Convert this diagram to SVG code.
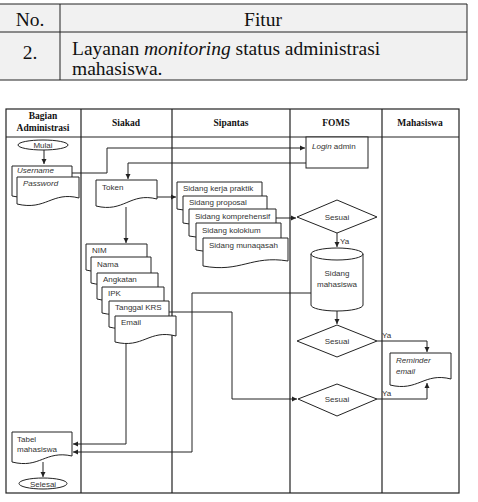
<svg xmlns="http://www.w3.org/2000/svg" width="478" height="502" viewBox="0 0 478 502">
<style>
.ln{stroke:#222;stroke-width:1;fill:none}
.sh{stroke:#222;stroke-width:1;fill:#fff}
.lane{stroke:#222;stroke-width:1.2;fill:none}
.t{font-family:"Liberation Sans",Arial,sans-serif;font-size:8px;fill:#333}
.c{text-anchor:middle}
.i{font-style:italic}
.h{font-family:"Liberation Serif","Times New Roman",serif;font-size:9.5px;font-weight:bold;fill:#111;text-anchor:middle}
.tt{font-family:"Liberation Serif","Times New Roman",serif;font-size:19.5px;fill:#111}
</style>
<defs>
<marker id="ah" markerWidth="6" markerHeight="6" refX="5" refY="3" orient="auto" markerUnits="userSpaceOnUse">
<path d="M0,0.5 L5,3 L0,5.5 Z" fill="#222"/>
</marker>
</defs>
<rect width="478" height="502" fill="#fff"/>

<!-- top table -->
<g id="top-table">
<rect x="0" y="4" width="467" height="76" fill="#f1f1f1"/>
<path class="ln" d="M0,4 H467 M0,32 H467 M0,80 H467 M60,4 V80 M467,4 V80" stroke-width="1.2"/>
<text class="tt" x="30" y="26" text-anchor="middle">No.</text>
<text class="tt" x="263" y="26" text-anchor="middle">Fitur</text>
<text class="tt" x="30" y="59" text-anchor="middle">2.</text>
<text class="tt" x="72" y="55">Layanan <tspan font-style="italic">monitoring</tspan> status administrasi</text>
<text class="tt" x="72" y="75">mahasiswa.</text>
</g>

<!-- swimlanes -->
<g id="lanes">
<rect class="lane" x="6" y="109" width="453" height="384"/>
<path class="lane" d="M6,137 H459 M81,109 V493 M172,109 V493 M290,109 V493 M382,109 V493"/>
<text class="h" x="43" y="119">Bagian</text>
<text class="h" x="43" y="131">Administrasi</text>
<text class="h" x="126" y="126">Siakad</text>
<text class="h" x="231" y="126">Sipantas</text>
<text class="h" x="336" y="126">FOMS</text>
<text class="h" x="420" y="126">Mahasiswa</text>
</g>

<!-- connectors -->
<g id="connectors" class="ln">
<path d="M44,150 V164" marker-end="url(#ah)"/>
<path d="M72,173 H107 V148 H305" marker-end="url(#ah)"/>
<path d="M306,163 H128 V179" marker-end="url(#ah)"/>
<path d="M157,197 H176" marker-end="url(#ah)"/>
<path d="M126,207 V243" marker-end="url(#ah)"/>
<path d="M276,218 H296" marker-end="url(#ah)"/>
<path d="M337,233 V247" marker-end="url(#ah)"/>
<path d="M311,293 H192 V452 H73" marker-end="url(#ah)"/>
<path d="M126,343 V444 H73" marker-end="url(#ah)"/>
<path d="M169,312 H232 V399 H297" marker-end="url(#ah)"/>
<path d="M337,311 V324" marker-end="url(#ah)"/>
<path d="M377,341 H427 V352" marker-end="url(#ah)"/>
<path d="M377,399 H427 V383" marker-end="url(#ah)"/>
<path d="M43,462 V477" marker-end="url(#ah)"/>
<text class="t" x="340" y="244" stroke="none">Ya</text>
<text class="t" x="382" y="338" stroke="none">Ya</text>
<text class="t" x="382" y="396" stroke="none">Ya</text>
</g>

<!-- Bagian Administrasi -->
<g id="mulai">
<ellipse class="sh" cx="43" cy="145" rx="25" ry="5"/>
<text class="t c" x="43" y="148">Mulai</text>
</g>
<g id="username">
<path class="sh" d="M12,166 H72 V189 C45,184 40,202 12,196 Z"/>
<text class="t i" x="17" y="173">Username</text>
</g>
<g id="password">
<path class="sh" d="M17,177 H79 V198 C52,191 46,211 17,204 Z"/>
<text class="t i" x="23" y="186">Password</text>
</g>
<g id="tabel-mahasiswa">
<path class="sh" d="M12,432 H72 V456 C45,450 40,469 12,462 Z"/>
<text class="t" x="17" y="442">Tabel</text>
<text class="t" x="17" y="452">mahasiswa</text>
</g>
<g id="selesai">
<ellipse class="sh" cx="43" cy="483.5" rx="24" ry="5.5"/>
<text class="t c" x="43" y="486.5">Selesai</text>
</g>

<!-- Siakad -->
<g id="token">
<path class="sh" d="M96,180 H157 V199 C130,192 124,213 96,206 Z"/>
<text class="t" x="102" y="190">Token</text>
</g>
<g id="nim">
<path class="sh" d="M86,244 H147 V264 C120,257 114,277 86,270 Z"/>
<text class="t" x="92" y="253">NIM</text>
</g>
<g id="nama">
<path class="sh" d="M91,257 H151 V277 C124,270 118,290 91,283 Z"/>
<text class="t" x="97" y="267">Nama</text>
</g>
<g id="angkatan">
<path class="sh" d="M97,273 H158 V293 C131,286 125,306 97,299 Z"/>
<text class="t" x="103" y="282">Angkatan</text>
</g>
<g id="ipk">
<path class="sh" d="M102,287 H164 V307 C137,300 131,320 102,313 Z"/>
<text class="t" x="108" y="296">IPK</text>
</g>
<g id="tanggal-krs">
<path class="sh" d="M109,301 H169 V321 C142,314 136,334 109,327 Z"/>
<text class="t" x="115" y="310">Tanggal KRS</text>
</g>
<g id="email">
<path class="sh" d="M115,316 H176 V336 C149,329 143,349 115,342 Z"/>
<text class="t" x="121" y="325">Email</text>
</g>

<!-- Sipantas -->
<g id="sidang-kp">
<path class="sh" d="M177,182 H262 V204 C225,197 215,216 177,209 Z"/>
<text class="t" x="183" y="191">Sidang kerja praktik</text>
</g>
<g id="sidang-proposal">
<path class="sh" d="M183,196 H267 V218 C230,211 220,230 183,223 Z"/>
<text class="t" x="189" y="205">Sidang proposal</text>
</g>
<g id="sidang-komprehensif">
<path class="sh" d="M189,209 H276 V231 C238,224 228,243 189,236 Z"/>
<text class="t" x="195" y="219">Sidang komprehensif</text>
</g>
<g id="sidang-kolokium">
<path class="sh" d="M196,223 H281 V245 C244,238 234,257 196,250 Z"/>
<text class="t" x="202" y="233">Sidang kolokium</text>
</g>
<g id="sidang-munaqasah">
<path class="sh" d="M203,238 H288 V261 C251,255 241,273 203,266 Z"/>
<text class="t" x="209" y="248">Sidang munaqasah</text>
</g>

<!-- FOMS -->
<g id="login-admin">
<rect class="sh" x="306" y="137" width="62" height="31"/>
<text class="t" x="312" y="149"><tspan font-style="italic">Login</tspan> admin</text>
</g>
<g id="sesuai-1">
<path class="sh" d="M297,217 L337,200 L377,217 L337,233 Z"/>
<text class="t c" x="337" y="220">Sesuai</text>
</g>
<g id="sidang-mahasiswa">
<path class="sh" d="M311,254 A26,6 0 0,1 363,254 V305 A26,6 0 0,1 311,305 Z"/>
<path class="ln" d="M311,254 A26,6 0 0,0 363,254"/>
<text class="t c" x="337" y="276">Sidang</text>
<text class="t c" x="337" y="287">mahasiswa</text>
</g>
<g id="sesuai-2">
<path class="sh" d="M297,341 L337,325 L377,341 L337,357 Z"/>
<text class="t c" x="337" y="344">Sesuai</text>
</g>
<g id="sesuai-3">
<path class="sh" d="M298,399 L337,384 L377,399 L337,416 Z"/>
<text class="t c" x="337" y="402">Sesuai</text>
</g>

<!-- Mahasiswa -->
<g id="reminder-email">
<path class="sh" d="M390,353 H451 V379 C424,372 418,392 390,385 Z"/>
<text class="t i" x="396" y="363">Reminder</text>
<text class="t i" x="396" y="374">email</text>
</g>
</svg>
